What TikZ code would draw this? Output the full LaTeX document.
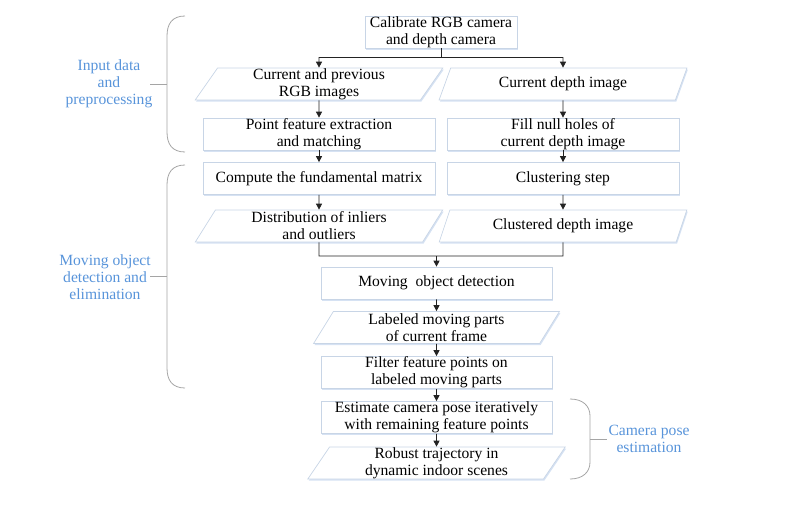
\documentclass[tikz,border=0pt]{standalone}
\usepackage{fontspec}
\setmainfont{Liberation Serif}
\usetikzlibrary{shapes.geometric,arrows.meta,shadows}

\definecolor{boxline}{RGB}{200,213,230}
\definecolor{shadowc}{RGB}{214,226,243}
\definecolor{lbl}{RGB}{88,148,218}
\definecolor{brc}{RGB}{165,165,165}
\definecolor{arr}{RGB}{35,35,35}

\begin{document}
\begin{tikzpicture}[x=1pt,y=-1pt,
 base/.style={draw=boxline, line width=0.7pt, fill=white, align=center, font=\fontsize{15.6}{17}\selectfont, inner sep=0pt,
   drop shadow={shadow xshift=1pt,shadow yshift=-1.5pt,fill=shadowc,opacity=1}},
 procbox/.style={base, rectangle, minimum height=32pt},
 iobox/.style={base, trapezium, trapezium left angle=65, trapezium right angle=115, trapezium stretches=true, minimum height=32pt},
 conn/.style={draw=arr, line width=0.8pt},
 arrowc/.style={conn, -{Triangle[length=6pt,width=6pt]}},
 brace/.style={draw=brc, line width=0.8pt},
 lbltext/.style={text=lbl, align=center, font=\fontsize{15.6}{17}\selectfont}
]
\useasboundingbox (0,0) rectangle (786,506);

% nodes
\node[procbox, minimum width=152pt] (cal) at (441,32) {Calibrate RGB camera\\and depth camera};
\node[iobox, minimum width=248pt] (rgb) at (319,84) {Current and previous\\RGB images};
\node[iobox, minimum width=248pt] (dep) at (563,84) {Current depth image};
\node[procbox, minimum width=232pt] (pfe) at (319,134) {Point feature extraction\\and matching};
\node[procbox, minimum width=232pt] (fill) at (563,134) {Fill null holes of\\current depth image};
\node[procbox, minimum width=232pt] (fm) at (319,178.5) {Compute the fundamental matrix};
\node[procbox, minimum width=232pt] (clu) at (563,178.5) {Clustering step};
\node[iobox, minimum width=248pt] (dist) at (319,226) {Distribution of inliers\\and outliers};
\node[iobox, minimum width=248pt] (cdi) at (563,226) {Clustered depth image};
\node[procbox, minimum width=231pt] (mod) at (436.5,283) {Moving~ object detection};
\node[iobox, minimum width=246pt] (lmp) at (436.5,327.5) {Labeled moving parts\\of current frame};
\node[procbox, minimum width=231pt] (flt) at (436.5,372.5) {Filter feature points on\\labeled moving parts};
\node[procbox, minimum width=231pt] (est) at (436.5,417.5) {Estimate camera pose iteratively\\with remaining feature points};
\node[iobox, minimum width=258pt] (rob) at (436.5,463) {Robust trajectory in\\dynamic indoor scenes};

% connectors
\coordinate (sL) at (319,57);
\coordinate (sR) at (563,57);
\draw[conn] (cal.south) -- (cal.south |- sL);
\draw[conn] (sL) -- (sR);
\draw[arrowc] (sL) -- (rgb.north);
\draw[arrowc] (sR) -- (dep.north);
\draw[arrowc] (rgb.south) -- (pfe.north);
\draw[arrowc] (dep.south) -- (fill.north);
\draw[arrowc] (pfe.south) -- (fm.north);
\draw[arrowc] (fill.south) -- (clu.north);
\draw[arrowc] (fm.south) -- (dist.north);
\draw[arrowc] (clu.south) -- (cdi.north);
\coordinate (mL) at (319,256);
\coordinate (mR) at (563,256);
\coordinate (mC) at (436.5,256);
\draw[conn] (dist.south) -- (mL) -- (mR) -- (cdi.south);
\draw[arrowc] (mC) -- (mod.north);
\draw[arrowc] (mod.south) -- (lmp.north);
\draw[arrowc] (lmp.south) -- (flt.north);
\draw[arrowc] (flt.south) -- (est.north);
\draw[arrowc] (est.south) -- (rob.north);

% braces
\draw[brace] (185,16) .. controls (172,16) and (167,24) .. (167,36) -- (167,132) .. controls (167,144) and (172,152) .. (185,152);
\draw[brace] (150,84) -- (167,84);
\draw[brace] (185,165) .. controls (172,165) and (167,173) .. (167,185) -- (167,368) .. controls (167,380) and (172,388) .. (185,388);
\draw[brace] (150,276) -- (167,276);
\draw[brace] (570,399) .. controls (583,399) and (590,406) .. (590,416) -- (590,462) .. controls (590,472) and (583,479) .. (570,479);
\draw[brace] (590,439) -- (607,439);

% labels
\node[lbltext] (l1) at (109,84) {Input data\\and\\preprocessing};
\node[lbltext] (l2) at (105,277) {Moving object\\detection and\\elimination};
\node[lbltext] (l3) at (649,439) {Camera pose\\estimation};
\end{tikzpicture}
\end{document}
